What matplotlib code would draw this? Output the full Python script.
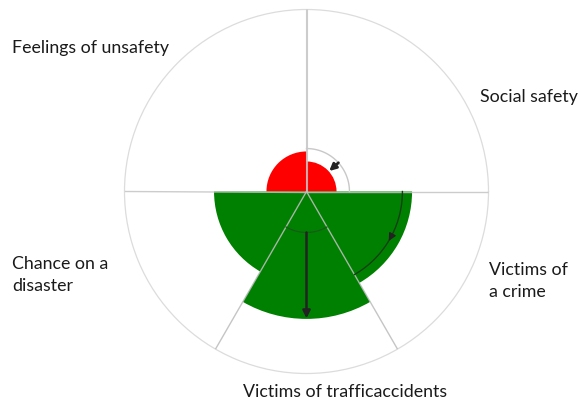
import numpy as np
import matplotlib
matplotlib.use("Agg")
import matplotlib.pyplot as plt

# ---- data ----
categories = ["Social safety", "Feelings of unsafety", "Chance on a\ndisaster",
              "Victims of trafficaccidents", "Victims of\na crime"]
sector_start = [0, 90, 180, 240, 300]      # degrees
sector_width = [90, 90, 60, 60, 60]        # degrees
scores = [16.5, 22.0, 50.8, 70.0, 58.0]    # current score (0-100)
previous = [23.6, None, None, 22.5, 52.7]  # previous score markers
colors = ["#ff0000", "#ff0000", "#008000", "#008000", "#008000"]
rmax = 100

W, H = 581, 401
fig = plt.figure(figsize=(W / 100, H / 100), dpi=100)
cx, cy, R = 306.5, 191.5, 182
ax = fig.add_axes([(cx - R) / W, (H - cy - R) / H, 2 * R / W, 2 * R / H], projection="polar")
ax.set_ylim(0, rmax)
ax.set_xticks([])
ax.set_yticks([])
ax.grid(False)
ax.spines["polar"].set_color("#dcdcdc")
ax.spines["polar"].set_linewidth(0.9)

th0 = np.deg2rad(sector_start)
thw = np.deg2rad(sector_width)
thc = th0 + thw / 2

# bars
ax.bar(thc, scores, width=thw, bottom=0, color=colors, edgecolor="none",
       align="center", zorder=2)

# sector divider lines
for a in sector_start:
    t = np.deg2rad(a)
    lw = 1.5 if a == 90 else 1.0
    col = "#c4c4c4" if a in (0, 90, 180) else "#bbbbbb"
    ax.plot([t, t], [0, rmax], color=col, lw=lw, alpha=0.85, zorder=3)

# previous-value markers
# Social safety: grey outline arc + arrow inward
i = 0
tt = np.linspace(th0[i], th0[i] + thw[i], 100)
ax.plot(tt, np.full_like(tt, previous[i]), color="#c8c8c8", lw=1.0, zorder=3)
ta = np.deg2rad(42)
ax.annotate("", xy=(ta, scores[i] + 0.3), xytext=(ta, previous[i]),
            arrowprops=dict(arrowstyle="-|>", color="#222222", lw=2.0,
                            mutation_scale=10, shrinkA=0, shrinkB=0), zorder=4)

# Traffic accidents: dark arc + long arrow outward
i = 3
tt = np.linspace(th0[i], th0[i] + thw[i], 100)
ax.plot(tt, np.full_like(tt, previous[i]), color="#1a5a1a", lw=0.9, zorder=3)
ax.annotate("", xy=(thc[i], scores[i] - 0.3), xytext=(thc[i], previous[i]),
            arrowprops=dict(arrowstyle="-|>", color="#222222", lw=1.8,
                            mutation_scale=11, shrinkA=0, shrinkB=0), zorder=4)

# Victims of a crime: dark arc with arrowhead pointing clockwise
i = 4
tt = np.linspace(th0[i], th0[i] + thw[i], 100)
ax.plot(tt, np.full_like(tt, previous[i]), color="#173f17", lw=1.0, zorder=3)
ta1, ta2 = np.deg2rad(333), np.deg2rad(329)
ax.annotate("", xy=(ta2, previous[i]), xytext=(ta1, previous[i]),
            arrowprops=dict(arrowstyle="-|>", color="#222222", lw=1.0,
                            mutation_scale=11, shrinkA=0, shrinkB=0), zorder=4)

# labels (pixel positions, left aligned)
font = dict(family=["Lato", "DejaVu Sans"], fontsize=12.8, color="#1a1a1a")
label_pos = [(480, 97), (12, 48), (12, 275), (243, 392), (489, 281)]
for lab, (x, y) in zip(categories, label_pos):
    fig.text(x / W, 1 - y / H, lab, ha="left", va="center",
             linespacing=1.5, **font)

fig.savefig("out.png", dpi=100)
